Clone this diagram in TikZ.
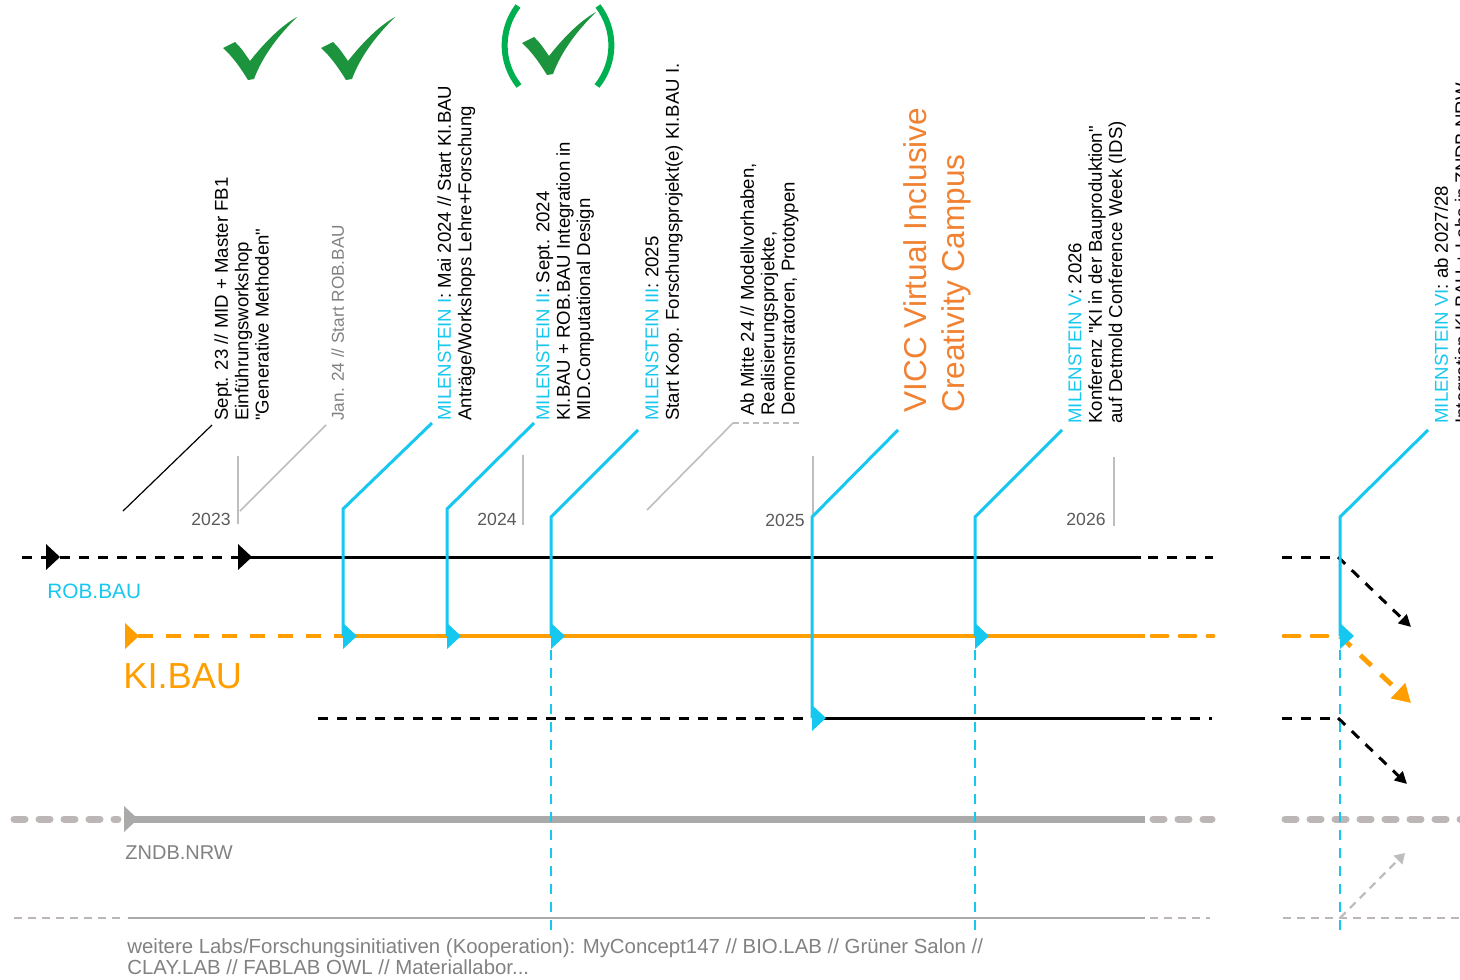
\documentclass[tikz,border=0pt]{standalone}
\usepackage{fontspec}
\setmainfont{Liberation Sans}[Ligatures=TeXOff]
\usetikzlibrary{arrows.meta,calc}

\definecolor{cyanms}{RGB}{22,200,240}
\definecolor{kiorange}{RGB}{255,158,0}
\definecolor{viccorange}{RGB}{240,130,50}
\definecolor{tickgreen}{RGB}{28,148,62}
\definecolor{parengreen}{RGB}{0,176,80}
\definecolor{zgray}{RGB}{170,170,170}
\definecolor{zdash}{RGB}{188,182,182}
\definecolor{yeargray}{RGB}{90,90,90}
\definecolor{tickgray}{RGB}{190,190,190}
\definecolor{lightgray}{RGB}{130,130,130}

\tikzset{
  headtri/.pic={\fill (0,-13) -- (14,0) -- (0,13) -- cycle;},
  checkmark/.pic={\fill (0,31) -- (12,25) .. controls (18,31) .. (27,44)
      .. controls (42,25) and (58,9) .. (74,0)
      .. controls (56,18) and (40,38) .. (31,62) -- (25,63)
      .. controls (17,50) and (9,39) .. cycle;}
}

\begin{document}
\begin{tikzpicture}[x=0.5pt,y=-0.5pt,
    every node/.style={inner sep=0pt},
    vtext/.style={rotate=90,anchor=north west,align=left,font=\fontsize{9.3}{10.2}\selectfont},
    yearlbl/.style={anchor=east,text=yeargray,font=\fontsize{8.8}{10}\selectfont},
    yeartick/.style={draw=tickgray,line width=0.6pt},
    ms/.style={draw=cyanms,line width=1.5pt},
    msdash/.style={draw=cyanms,line width=1.3pt,dash pattern=on 5pt off 4pt},
    blk/.style={draw=black,line width=1.5pt},
    blkdash/.style={blk,dash pattern=on 5pt off 4.5pt},
    ora/.style={draw=kiorange,line width=2.4pt},
    oradash/.style={ora,dash pattern=on 7.5pt off 6.5pt},
    zn/.style={draw=zgray,line width=3.5pt},
    zndash/.style={draw=zdash,line width=3.5pt,line cap=round,dash pattern=on 5.5pt off 7pt},
    labline/.style={draw=zgray,line width=1.4pt},
    labdash/.style={draw=zdash,line width=1.3pt,dash pattern=on 4pt off 3pt}]
  \useasboundingbox (0,0) rectangle (1460,979);
  \fill[white] (0,0) rectangle (1460,979);

  % checks
  \pic[tickgreen] at (223,17) {checkmark};
  \pic[tickgreen] at (321,17) {checkmark};
  \pic[tickgreen] at (522,12) {checkmark};
  \draw[parengreen,line width=3pt] (518,6) .. controls (500,30) and (500,62) .. (519,86);
  \draw[parengreen,line width=3pt] (598,6) .. controls (616,30) and (616,62) .. (597,86);

  % texts
  \node[vtext] (sept) at (214,421) {Sept. 23 // MID + Master FB1\\Einführungsworkshop\\"Generative Methoden"};
  \node[vtext,text=lightgray,font=\fontsize{8.6}{10}\selectfont] (jan) at (331,421) {Jan. 24 // Start ROB.BAU};
  \node[vtext] (m1txt) at (437,421) {{\color{cyanms}MILENSTEIN I}: Mai 2024 // Start KI.BAU\\Anträge/Workshops Lehre+Forschung};
  \node[vtext] (m2txt) at (536,421) {{\color{cyanms}MILENSTEIN II}: Sept. 2024\\KI.BAU + ROB.BAU Integration in\\MID.Computational Design};
  \node[vtext] (m3txt) at (645,421) {{\color{cyanms}MILENSTEIN III}: 2025\\Start Koop. Forschungsprojekt(e) KI.BAU I.};
  \node[vtext] (mitte) at (740,416) {Ab Mitte 24 // Modellvorhaben,\\Realisierungsprojekte,\\Demonstratoren, Prototypen};
  \node[vtext,text=viccorange,font=\fontsize{15.8}{19}\selectfont] (vicc) at (903,413) {VICC Virtual Inclusive\\Creativity Campus};
  \node[vtext] (m5txt) at (1068,424) {{\color{cyanms}MILENSTEIN V}: 2026\\Konferenz "KI in der Bauproduktion"\\auf Detmold Conference Week (IDS)};
  \node[vtext] (m6txt) at (1434,424) {{\color{cyanms}MILENSTEIN VI}: ab 2027/28\\Integration KI.BAU + Labs in ZNDB.NRW};

  % leaders
  \draw[black,line width=0.6pt] (123,511) -- (212,425);
  \draw[tickgray,line width=0.8pt] (240,511) -- (326,425);
  \coordinate (mid1) at (733,423);
  \draw[tickgray,line width=0.8pt] (647,510) -- (mid1);
  \draw[tickgray,line width=0.8pt,dash pattern=on 3pt off 2pt] (mid1) -- (802,423);

  % years
  \draw[yeartick] (238,456) -- (238,524);
  \node[yearlbl] (y23) at (231,519) {2023};
  \draw[yeartick] (523,455) -- (523,525);
  \node[yearlbl] (y24) at (517,519) {2024};
  \draw[yeartick] (813,456) -- (813,517);
  \node[yearlbl] (y25) at (805,520) {2025};
  \draw[yeartick] (1114,457) -- (1114,526);
  \node[yearlbl] (y26) at (1106,519) {2026};

  % ROB.BAU
  \draw[blkdash] (22,557) -- (240,557);
  \draw[blk] (240,557) -- (1141,557);
  \draw[blkdash] (1148,557) -- (1213,557);
  \draw[blkdash] (1282,557) -- (1338,557);
  \draw[blkdash,-{Triangle[length=6pt,width=6pt]}] (1338,557) -- (1411,627);
  \pic[black] at (46,557) {headtri};
  \pic[black] at (238,557) {headtri};
  \node[anchor=west,text=cyanms,font=\fontsize{10.4}{12}\selectfont] (rob) at (47,591) {ROB.BAU};

  % KI.BAU
  \draw[oradash] (138,636) -- (343,636);
  \draw[ora] (343,636) -- (1145,636);
  \draw[oradash,line cap=round] (1152,636) -- (1213,636);
  \draw[oradash,line cap=round] (1284,636) -- (1338,636);
  \draw[oradash,-{Triangle[length=9pt,width=10pt]}] (1340,636) -- (1411,703);
  \pic[kiorange] at (125,636) {headtri};
  \node[anchor=west,text=kiorange,font=\fontsize{18.1}{20}\selectfont] (ki) at (123,676) {KI.BAU};

  % third line
  \draw[blkdash] (318,718) -- (812,718);
  \draw[blk] (812,718) -- (1145,718);
  \draw[blkdash] (1152,718) -- (1212,718);
  \draw[blkdash] (1282,718) -- (1338,718);
  \draw[blkdash,-{Triangle[length=6pt,width=6pt]}] (1338,718) -- (1407,784);

  % ZNDB.NRW
  \draw[zndash] (14,819) -- (118,819);
  \draw[zn] (130,819) -- (1145,819);
  \draw[zndash] (1153,819) -- (1212,819);
  \draw[zndash] (1285,819) -- (1470,819);
  \pic[zgray] at (124,819) {headtri};
  \node[anchor=west,text=lightgray,font=\fontsize{10}{12}\selectfont] (zndb) at (125,853) {ZNDB.NRW};

  % weitere Labs
  \draw[labdash] (14,918) -- (126,918);
  \draw[labline] (128,918) -- (1145,918);
  \draw[labdash] (1150,918) -- (1210,918);
  \draw[labdash] (1283,918) -- (1460,918);
  \draw[tickgray,line width=1.2pt,dash pattern=on 4pt off 3pt,-{Triangle[length=5pt,width=6pt]}] (1340,918) -- (1405,853);
  \node[anchor=north west,align=left,text=lightgray,font=\fontsize{10.2}{10.6}\selectfont] (labs) at (127,938)
    {weitere Labs/Forschungsinitiativen (Kooperation): MyConcept147 // BIO.LAB // Grüner Salon //\\CLAY.LAB // FABLAB OWL // Materiallabor...};

  % milestones
  \coordinate (m1t) at (432,423); \coordinate (m1c) at (343,509); \coordinate (m1b) at (343,636);
  \coordinate (m2t) at (534,423); \coordinate (m2c) at (447,509); \coordinate (m2b) at (447,636);
  \coordinate (m3t) at (638,430); \coordinate (m3c) at (551,517); \coordinate (m3b) at (551,636);
  \coordinate (m4t) at (898,430); \coordinate (m4c) at (812,517); \coordinate (m4b) at (812,718);
  \coordinate (m5t) at (1062,430); \coordinate (m5c) at (975,517); \coordinate (m5b) at (975,636);
  \coordinate (m6t) at (1428,430); \coordinate (m6c) at (1340,517); \coordinate (m6b) at (1340,636);
  \draw[ms] (m1t) -- (m1c) -- (m1b);
  \draw[ms] (m2t) -- (m2c) -- (m2b);
  \draw[ms] (m3t) -- (m3c) -- (m3b);
  \draw[ms] (m4t) -- (m4c) -- (m4b);
  \draw[ms] (m5t) -- (m5c) -- (m5b);
  \draw[ms] (m6t) -- (m6c) -- (m6b);
  \draw[msdash] ($(m3b)+(0,14)$) -- (551,935);
  \draw[msdash] ($(m5b)+(0,14)$) -- (975,935);
  \draw[msdash] ($(m6b)+(0,14)$) -- (1340,935);
  \pic[cyanms] at (m1b) {headtri};
  \pic[cyanms] at (m2b) {headtri};
  \pic[cyanms] at (m3b) {headtri};
  \pic[cyanms] at (m4b) {headtri};
  \pic[cyanms] at (m5b) {headtri};
  \pic[cyanms] at (m6b) {headtri};
\end{tikzpicture}
\end{document}
